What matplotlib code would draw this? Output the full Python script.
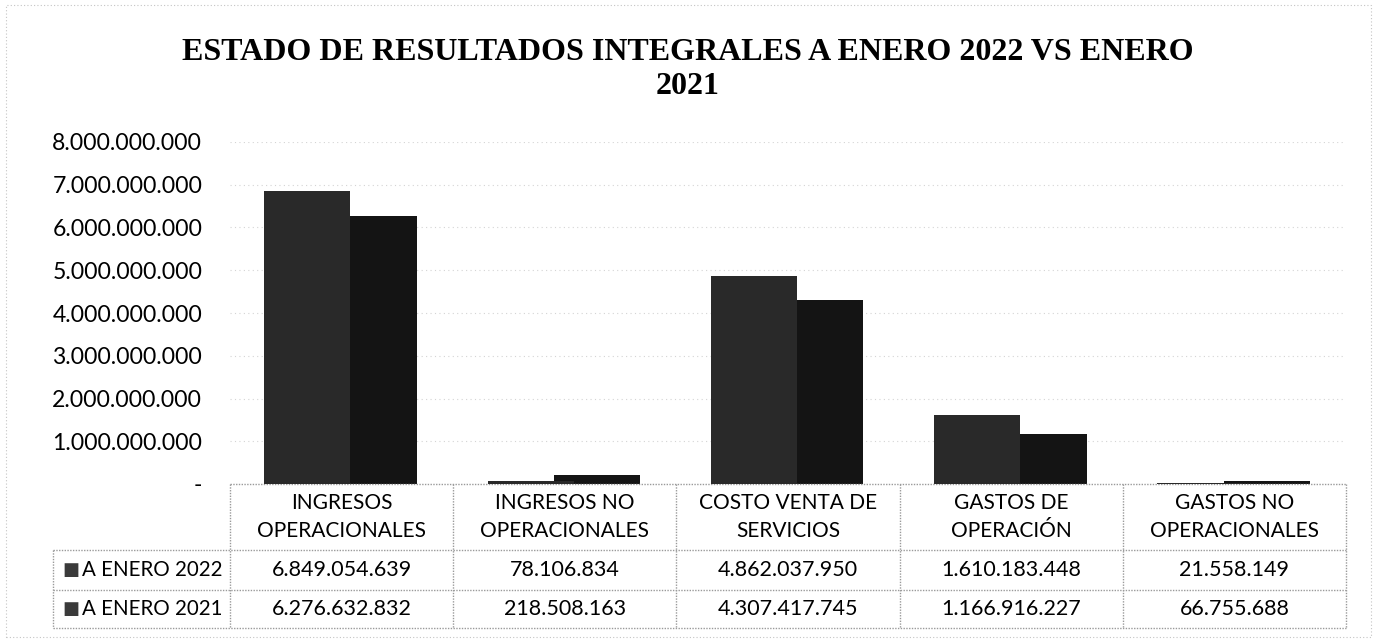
import matplotlib.pyplot as plt
import numpy as np
from matplotlib.patches import Rectangle
from matplotlib.ticker import FuncFormatter

# datos del estado de resultados
categorias = ["INGRESOS\nOPERACIONALES", "INGRESOS NO\nOPERACIONALES",
              "COSTO VENTA DE\nSERVICIOS", "GASTOS DE\nOPERACIÓN",
              "GASTOS NO\nOPERACIONALES"]
series = ["A ENERO 2022", "A ENERO 2021"]
enero_2022 = [6849054639, 78106834, 4862037950, 1610183448, 21558149]
enero_2021 = [6276632832, 218508163, 4307417745, 1166916227, 66755688]
y_ticks = [0, 1e9, 2e9, 3e9, 4e9, 5e9, 6e9, 7e9, 8e9]


def miles(v):
    return f"{int(round(v)):,}".replace(",", ".")


fuente = "Lato"
fig = plt.figure(figsize=(13.76, 6.4), dpi=100)
ax = fig.add_axes([230 / 1376, 1 - 484 / 640, 1116 / 1376, 342 / 640])

x = np.arange(len(categorias))
ancho = 0.385
ax.bar(x + 0.145, enero_2021, width=ancho, color="#141414", zorder=2)
ax.bar(x - 0.153, enero_2022, width=ancho, color="#292929", zorder=3)

ax.set_xlim(-0.5, len(categorias) - 0.5)
ax.set_ylim(0, 8e9)
ax.set_yticks(y_ticks)
ax.yaxis.set_major_formatter(FuncFormatter(lambda v, p: "-" if v == 0 else miles(v)))
ax.tick_params(axis="y", length=0, pad=20, labelsize=16.6)
for t in ax.get_yticklabels():
    t.set_family(fuente)
ax.set_xticks([])
for s in ax.spines.values():
    s.set_visible(False)
ax.grid(axis="y", color="#d4d4d4", linewidth=0.8, linestyle=(0, (1, 3)), zorder=0)

# tabla de datos bajo el eje
tr = ax.get_xaxis_transform()
h_head, h_r1, h_r2 = -0.193, -0.310, -0.421
x_izq = -0.5 - 177 / 223.2
linea = dict(color="#9a9a9a", linewidth=1, linestyle=(0, (1, 1)), transform=tr, clip_on=False)
ax.plot([-0.5, 4.5], [0, 0], **linea)
for yy in (h_head, h_r1, h_r2):
    ax.plot([x_izq, 4.5], [yy, yy], **linea)
for xx in np.arange(-0.5, 5, 1):
    ax.plot([xx, xx], [0, h_r2], **linea)
ax.plot([x_izq, x_izq], [h_head, h_r2], **linea)

for i, cat in enumerate(categorias):
    ax.text(i, h_head / 2, cat, transform=tr, ha="center", va="center",
            fontsize=15, family=fuente, linespacing=1.45)
    ax.text(i, (h_head + h_r1) / 2, miles(enero_2022[i]), transform=tr,
            ha="center", va="center", fontsize=15.5, family=fuente)
    ax.text(i, (h_r1 + h_r2) / 2, miles(enero_2021[i]), transform=tr,
            ha="center", va="center", fontsize=15.5, family=fuente)

for nombre, yy in zip(series, [(h_head + h_r1) / 2, (h_r1 + h_r2) / 2]):
    ax.text(x_izq + 0.04, yy, "\u25a0", transform=tr, ha="left", va="center",
            fontsize=13, color="#3a3a3a", family="DejaVu Sans")
    ax.text(x_izq + 0.13, yy, nombre, transform=tr, ha="left", va="center",
            fontsize=14.8, family=fuente)

titulo = dict(ha="center", va="center", fontsize=23, fontweight="bold",
              family="Liberation Serif")
fig.text(0.5, 1 - 52 / 640, "ESTADO DE RESULTADOS INTEGRALES A ENERO 2022 VS ENERO", **titulo)
fig.text(0.5, 1 - 87 / 640, "2021", **titulo)

fig.patches.append(Rectangle((6 / 1376, 3 / 640), 1365 / 1376, 632 / 640,
                             transform=fig.transFigure, fill=False,
                             edgecolor="#c4c4c4", linewidth=0.8, linestyle=(0, (1, 2))))

fig.savefig("out.png", dpi=100)
